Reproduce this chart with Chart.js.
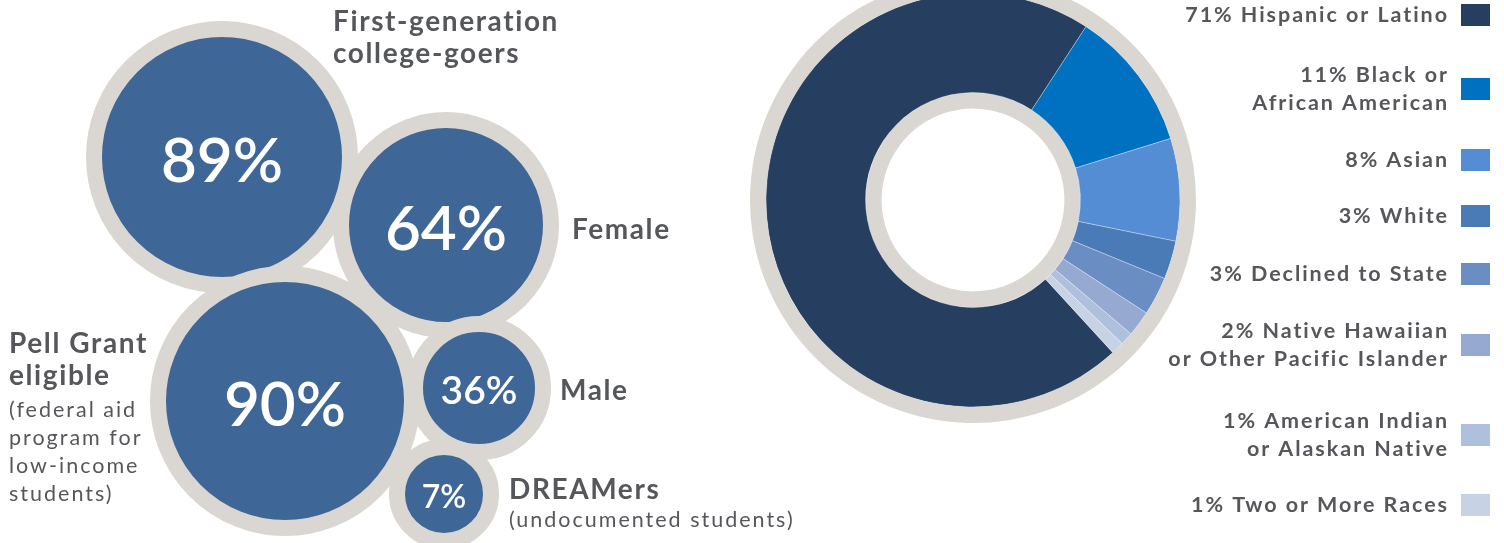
<!DOCTYPE html>
<html>
<head>
<meta charset="utf-8">
<script src="https://cdn.jsdelivr.net/npm/chart.js@4.4.1/dist/chart.umd.min.js"></script>
<style>
  body { margin: 0; background: #fff; width: 1504px; height: 543px; overflow: hidden; position: relative; }
  canvas { position: absolute; }
</style>
</head>
<body>
<canvas id="bubbles"></canvas>
<canvas id="ring" width="764" height="566" style="left:740px;top:-23px"></canvas>
<script>
// bubble values (percent of students)
const bubbleValues = [89, 64, 90, 36, 7];
const bubbleLabels = [['First-generation', 'college-goers'], ['Female'], ['Pell Grant', 'eligible'], ['Male'], ['DREAMers']];
const bubbleNotes = [[], [], ['(federal aid', 'program for', 'low-income', 'students)'], [], ['(undocumented students)']];

// race / ethnicity breakdown
const raceLabels = ['71% Hispanic or Latino', '11% Black or\nAfrican American', '8% Asian', '3% White',
    '3% Declined to State', '2% Native Hawaiian\nor Other Pacific Islander', '1% American Indian\nor Alaskan Native',
    '1% Two or More Races'];
const raceValues = [71, 11, 8, 3, 3, 2, 1, 1];
const raceColors = ['#263F60', '#0070C0', '#548DD4', '#4A7BB7', '#6A8EC3', '#95A9D1', '#AFC0DC', '#C8D2E5'];

// layout of the packed bubbles (pixels)
const bubbleX = [222, 446, 285, 479, 444];
const bubbleY = [157, 225, 401, 388, 494];
const bubbleR = [128, 105, 127, 64, 47];
const valueFont = [62, 62, 62, 39, 32];
const labelX = [333, 572, 9, 560, 509];
const labelY = [31, 239, 353, 400, 499];
const noteY = [0, 0, 417, 0, 527];
const legendY = [15, 89, 160, 216, 274, 345, 435, 505];

const GREY = '#DAD7D2';
const TEXT = '#56575A';
const BORDER = 16;
const W = 800, H = 543;
// the bubble controller insets the chart area by the largest bubble,
// so the canvas is grown by that much on every side
const inset = Math.max(...bubbleR) + BORDER;
const bc = document.getElementById('bubbles');
bc.width = W + 2 * inset;
bc.height = H + 2 * inset;
bc.style.left = -inset + 'px';
bc.style.top = -inset + 'px';

const bubbleText = {
    id: 'bubbleText',
    afterDatasetsDraw(chart) {
        const ctx = chart.ctx;
        const sx = chart.scales.x, sy = chart.scales.y;
        const meta = chart.getDatasetMeta(0);
        ctx.save();
        meta.data.forEach((el, i) => {
            // value inside the bubble
            ctx.font = '600 ' + valueFont[i] + 'px Lato';
            ctx.fillStyle = '#fff';
            ctx.textAlign = 'center';
            ctx.textBaseline = 'alphabetic';
            ctx.letterSpacing = '0px';
            const txt = bubbleValues[i] + '%';
            const m = ctx.measureText(txt);
            ctx.fillText(txt, el.x, el.y + m.actualBoundingBoxAscent / 2 + 2);

            // side label
            const x = sx.getPixelForValue(labelX[i]);
            ctx.textAlign = 'left';
            ctx.fillStyle = TEXT;
            ctx.letterSpacing = '1.6px';
            ctx.font = 'bold 28px Lato';
            bubbleLabels[i].forEach((line, j) => ctx.fillText(line, x, sy.getPixelForValue(labelY[i] + j * 32)));
            ctx.letterSpacing = '2px';
            ctx.font = '21.5px Lato';
            bubbleNotes[i].forEach((line, j) => ctx.fillText(line, x, sy.getPixelForValue(noteY[i] + j * 28)));
        });
        ctx.restore();
    }
};

new Chart(bc, {
    type: 'bubble',
    data: {
        datasets: [{
            data: bubbleValues.map((v, i) => ({ x: bubbleX[i], y: bubbleY[i], r: bubbleR[i] })),
            backgroundColor: '#3E6696',
            borderColor: GREY,
            borderWidth: BORDER,
            hoverBorderWidth: BORDER,
            clip: false
        }]
    },
    options: {
        responsive: false,
        animation: false,
        events: [],
        layout: { padding: 0 },
        plugins: { legend: { display: false }, tooltip: { enabled: false } },
        scales: {
            x: { display: false, min: 0, max: W },
            y: { display: false, min: 0, max: H, reverse: true }
        }
    },
    plugins: [bubbleText]
});

const ringLegend = {
    id: 'ringLegend',
    afterDraw(chart) {
        const ctx = chart.ctx;
        ctx.save();
        ctx.font = 'bold 21.5px Lato';
        ctx.textAlign = 'right';
        ctx.textBaseline = 'alphabetic';
        ctx.letterSpacing = '1.95px';
        raceLabels.forEach((label, i) => {
            const cy = legendY[i] + 23;
            ctx.fillStyle = raceColors[i];
            ctx.fillRect(721, cy - 11, 29, 22);
            ctx.fillStyle = TEXT;
            const lines = label.split('\n');
            lines.forEach((line, j) => {
                const y = cy + (j - (lines.length - 1) / 2) * 28 - 1;
                ctx.fillText(line, 709, y + 7.5);
            });
        });
        ctx.restore();
    }
};

new Chart(document.getElementById('ring'), {
    type: 'doughnut',
    data: {
        labels: raceLabels,
        datasets: [
            { data: [1], backgroundColor: GREY, borderWidth: 0, weight: 16 },
            { data: raceValues, backgroundColor: raceColors, borderColor: 'rgba(255,255,255,0.3)', borderWidth: 1, weight: 99.5 },
            { data: [1], backgroundColor: GREY, borderWidth: 0, weight: 16 }
        ]
    },
    options: {
        responsive: false,
        animation: false,
        events: [],
        radius: 223,
        cutout: '41%',
        rotation: 137.5,
        layout: { padding: { left: 10, right: 308, top: 0, bottom: 120 } },
        plugins: { legend: { display: false }, tooltip: { enabled: false } }
    },
    plugins: [ringLegend]
});
</script>
</body>
</html>
